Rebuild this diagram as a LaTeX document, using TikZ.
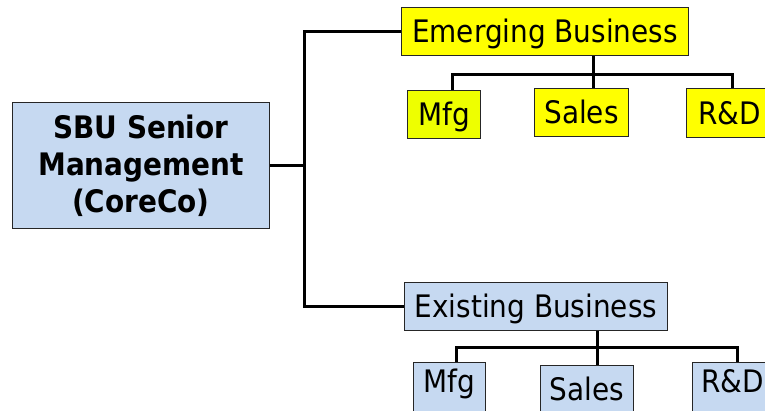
\documentclass[tikz,border=0pt]{standalone}
\usepackage{fontspec}
\setmainfont{DejaVu Sans Condensed}
\definecolor{boxblue}{HTML}{C6D9F1}
\definecolor{boxyellow}{HTML}{FFFF00}
\definecolor{mfgyellow}{HTML}{EEFF00}

\begin{document}
\begin{tikzpicture}[x=1pt,y=-1pt,
  unit/.style={draw=black!85,line width=0.9pt,anchor=north west,inner sep=0pt,
    text height=23pt,text depth=0pt,font=\fontsize{31}{37}\selectfont},
  link/.style={line width=3pt}]
  \useasboundingbox (0,0) rectangle (765,410);
  \clip (0,0) rectangle (765,410);

  % Senior management
  \node[unit,fill=boxblue,minimum width=257pt,minimum height=126pt,align=center,
    text height=,text depth=,font=\bfseries\fontsize{31}{37}\selectfont] (sbu) at (12,102)
    {SBU Senior\\Management\\(CoreCo)};

  % Emerging business
  \node[unit,fill=boxyellow,minimum width=287pt,minimum height=48pt] (emerging) at (401,7) {Emerging Business};
  \node[unit,fill=mfgyellow,minimum width=73pt,minimum height=48pt] (emmfg) at (407,90) {Mfg};
  \node[unit,fill=boxyellow,minimum width=94pt,minimum height=48pt] (emsales) at (534,88) {Sales};
  \node[unit,fill=boxyellow,minimum width=86pt,minimum height=49pt] (emrd) at (686,88) {R\&D};

  % Existing business
  \node[unit,fill=boxblue,minimum width=263pt,minimum height=48pt] (existing) at (404,282) {Existing Business};
  \node[unit,fill=boxblue,minimum width=72pt,minimum height=60pt,text depth=23pt] (exmfg) at (413,362) {Mfg};
  \node[unit,fill=boxblue,minimum width=93pt,minimum height=60pt,text depth=13pt] (exsales) at (540,365) {Sales};
  \node[unit,fill=boxblue,minimum width=80pt,minimum height=60pt,text depth=23pt] (exrd) at (692,362) {R\&D};

  % Trunk
  \draw[link] (sbu.east) -- ++(35,0) coordinate (fork);
  \draw[link] (emerging.west) -| (fork) |- (existing.west);

  % Emerging branches
  \coordinate (emhub) at (593,74);
  \coordinate (emleft) at (452,74);
  \coordinate (emright) at (732,74);
  \draw[link] (emerging.south -| emhub) -- (emsales.north -| emhub);
  \draw[link] (emmfg.north -| emleft) -- (emleft) -- (emright) -- (emrd.north -| emright);

  % Existing branches
  \coordinate (exhub) at (597,347);
  \coordinate (exleft) at (456,347);
  \coordinate (exright) at (737,347);
  \draw[link] (existing.south -| exhub) -- (exsales.north -| exhub);
  \draw[link] (exmfg.north -| exleft) -- (exleft) -- (exright) -- (exrd.north -| exright);
\end{tikzpicture}
\end{document}
